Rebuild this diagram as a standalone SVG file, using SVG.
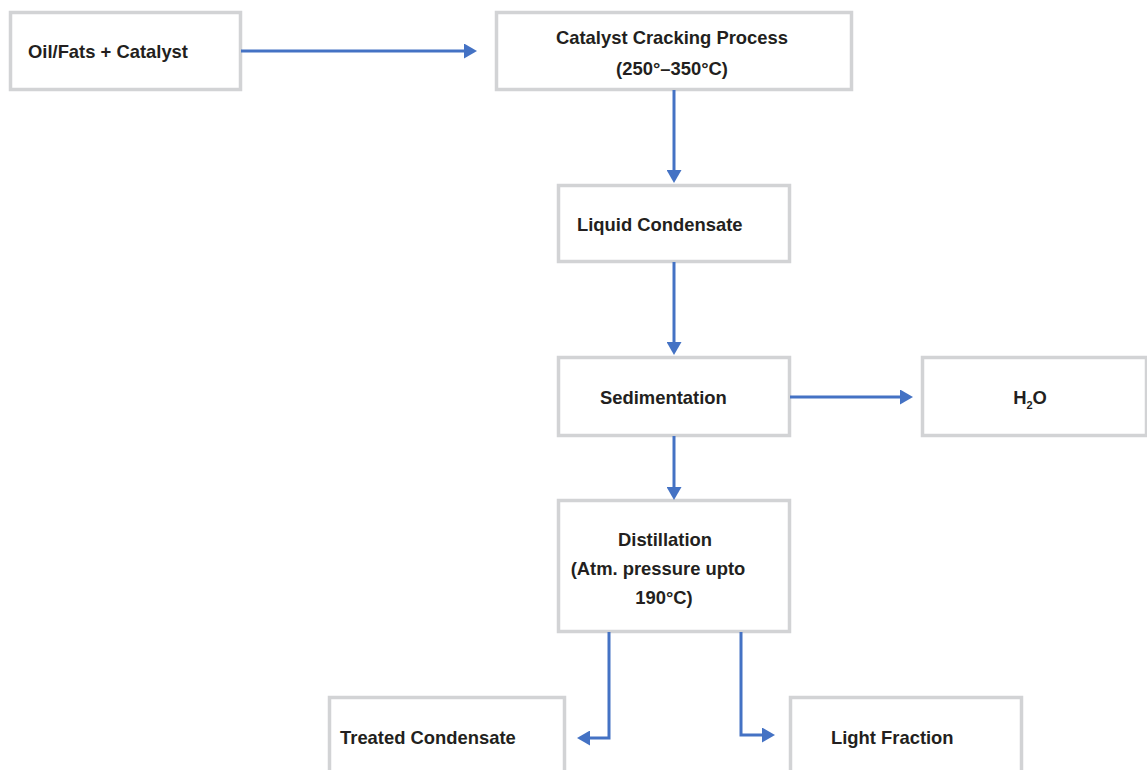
<svg xmlns="http://www.w3.org/2000/svg" width="1147" height="770" viewBox="0 0 1147 770">
<style>
.box{fill:#fff;stroke:#d2d3d5;stroke-width:3.5}
.t{font-family:"Liberation Sans",Arial,sans-serif;font-weight:bold;font-size:18.4px;fill:#231f20}
.c{text-anchor:middle}
.ln{fill:none;stroke:#4472c4;stroke-width:3}
</style>
<defs>
<marker id="ah" markerUnits="userSpaceOnUse" viewBox="0 0 13 15" markerWidth="13" markerHeight="15" refX="3" refY="7.5" orient="auto">
<path d="M0,0 L13,7.5 L0,15 z" fill="#4472c4"/>
</marker>
</defs>
<rect width="1147" height="770" fill="#fff"/>
<g id="n-oil"><rect class="box" x="10.5" y="12.5" width="230" height="77"/><text class="t" x="28" y="58">Oil/Fats + Catalyst</text></g>
<g id="n-cracking"><rect class="box" x="496.5" y="12.5" width="355" height="77"/><text class="t c" x="672" y="44">Catalyst Cracking Process</text><text class="t c" x="672" y="75">(250°–350°C)</text></g>
<g id="n-liquid"><rect class="box" x="558.5" y="185.5" width="231" height="76"/><text class="t" x="577" y="231">Liquid Condensate</text></g>
<g id="n-sed"><rect class="box" x="558.5" y="357.5" width="231" height="78"/><text class="t" x="600" y="404">Sedimentation</text></g>
<g id="n-h2o"><rect class="box" x="922.5" y="357.5" width="224" height="78"/><text class="t c" x="1030" y="404">H<tspan font-size="11" dy="5">2</tspan><tspan dy="-5">O</tspan></text></g>
<g id="n-dist"><rect class="box" x="558.5" y="500.5" width="231" height="131"/><text class="t c" x="665" y="546">Distillation</text><text class="t c" x="658" y="575">(Atm. pressure upto</text><text class="t c" x="664" y="604">190°C)</text></g>
<g id="n-treated"><rect class="box" x="329.5" y="697.5" width="235" height="80"/><text class="t" x="340" y="744">Treated Condensate</text></g>
<g id="n-light"><rect class="box" x="790.5" y="697.5" width="231" height="80"/><text class="t" x="831" y="744">Light Fraction</text></g>
<g id="connectors">
<path class="ln" d="M241,51 H467" marker-end="url(#ah)"/>
<path class="ln" d="M674,90 V173" marker-end="url(#ah)"/>
<path class="ln" d="M674,262 V345" marker-end="url(#ah)"/>
<path class="ln" d="M790,397 H903" marker-end="url(#ah)"/>
<path class="ln" d="M674,436 V490" marker-end="url(#ah)"/>
<path class="ln" d="M609,632 V738 H587" marker-end="url(#ah)"/>
<path class="ln" d="M741,632 V735 H765" marker-end="url(#ah)"/>
</g>
</svg>
